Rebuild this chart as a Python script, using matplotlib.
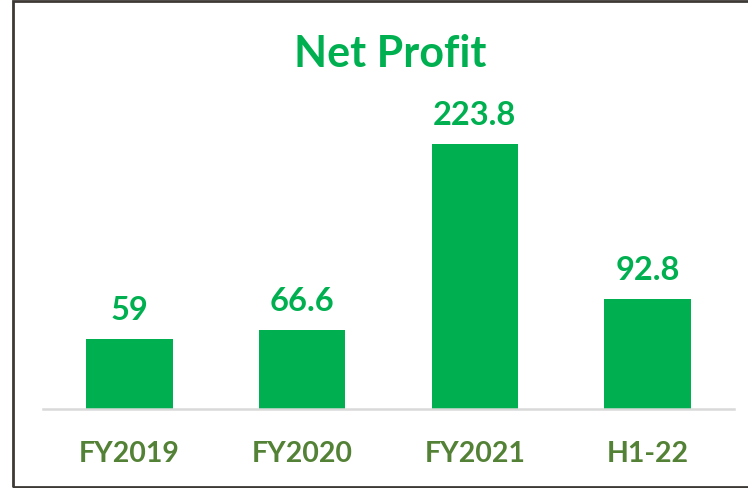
import matplotlib
matplotlib.use("Agg")
import matplotlib.pyplot as plt
from matplotlib.patches import Rectangle

# data
categories = ["FY2019", "FY2020", "FY2021", "H1-22"]
net_profit = [59, 66.6, 223.8, 92.8]
value_labels = ["59", "66.6", "223.8", "92.8"]

green = "#00B050"
olive = "#538135"

plt.rcParams["font.family"] = ["Lato", "DejaVu Sans"]

fig = plt.figure(figsize=(7.48, 4.89), dpi=100)
W, H = 748, 489

# frame around the chart (left, top, bottom; right side is cut off)
fig.add_artist(Rectangle((13 / W, 1.5 / H), 1.2, 1 - 3 / H, transform=fig.transFigure,
                         fill=False, edgecolor="#3d3935", linewidth=2))

ax = fig.add_axes([43 / W, (H - 410) / H, 691 / W, 296 / H])
x = range(len(categories))
ax.bar(x, net_profit, width=0.5, color=green)
ax.set_xlim(-0.5, len(categories) - 0.5)
ax.set_ylim(0, 250)

for xi, v, lab in zip(x, net_profit, value_labels):
    ax.annotate(lab, (xi, v), xytext=(0, 11), textcoords="offset points",
                ha="center", va="bottom", fontsize=23.5, fontweight="bold", color=green)

for s in ["left", "right", "top"]:
    ax.spines[s].set_visible(False)
ax.spines["bottom"].set_color("#D9D9D9")
ax.spines["bottom"].set_linewidth(1.8)
ax.set_yticks([])
ax.set_xticks(list(x))
ax.set_xticklabels(categories, fontsize=20.5, fontweight="bold", color=olive)
ax.tick_params(axis="x", length=0, pad=22)

fig.text(390 / W, 1 - 54 / H, "Net Profit", ha="center", va="center",
         fontsize=31, fontweight="bold", color=green)

fig.savefig("out.png", dpi=100)
